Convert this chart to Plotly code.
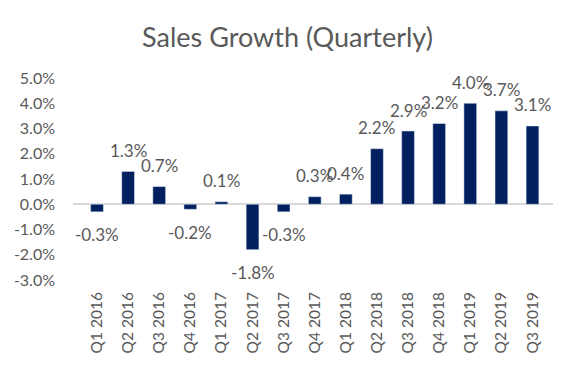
import plotly.graph_objects as go

quarters = ["Q1 2016", "Q2 2016", "Q3 2016", "Q4 2016", "Q1 2017", "Q2 2017", "Q3 2017",
            "Q4 2017", "Q1 2018", "Q2 2018", "Q3 2018", "Q4 2018", "Q1 2019", "Q2 2019", "Q3 2019"]
growth = [-0.3, 1.3, 0.7, -0.2, 0.1, -1.8, -0.3, 0.3, 0.4, 2.2, 2.9, 3.2, 4.0, 3.7, 3.1]
y_ticks = [-3, -2, -1, 0, 1, 2, 3, 4, 5]
y_tick_labels = ["-3.0%", "-2.0%", "-1.0%", "0.0%", "1.0%", "2.0%", "3.0%", "4.0%", "5.0%"]

FONT = "Lato"
GRAY = "#595959"

fig = go.Figure(go.Bar(x=quarters, y=growth, marker_color="#002060", width=0.41,
                       hoverinfo="skip"))

for q, v in zip(quarters, growth):
    fig.add_annotation(x=q, y=v, text=f"{v:.1f}%", showarrow=False,
                       yanchor="middle", xanchor="center",
                       yshift=21 if v >= 0 else -23,
                       font=dict(family=FONT, size=17, color=GRAY))

fig.update_layout(
    width=575, height=369,
    margin=dict(l=73, r=22, t=78, b=89, autoexpand=False),
    paper_bgcolor="white", plot_bgcolor="white",
    title=dict(text="Sales Growth (Quarterly)", x=0.5, xanchor="center",
               y=1 - 38 / 369, yanchor="middle",
               font=dict(family=FONT, size=27, color=GRAY)),
    showlegend=False,
    xaxis=dict(showgrid=False, showline=False, tickangle=-90, ticks="",
               ticklabelstandoff=8, automargin=False,
               tickfont=dict(family=FONT, size=15.5, color=GRAY)),
    yaxis=dict(range=[-3, 5], showgrid=False, zeroline=True, zerolinecolor="#D9D9D9",
               zerolinewidth=2, tickvals=y_ticks, ticktext=y_tick_labels,
               ticklabelstandoff=17, automargin=False,
               tickfont=dict(family=FONT, size=16, color=GRAY)),
)

# remove the default page margin so the figure sits at the window's top-left corner
fig.write_html("out.html", config={"displayModeBar": False},
               post_script="document.body.style.margin='0';document.body.style.overflow='hidden';")
